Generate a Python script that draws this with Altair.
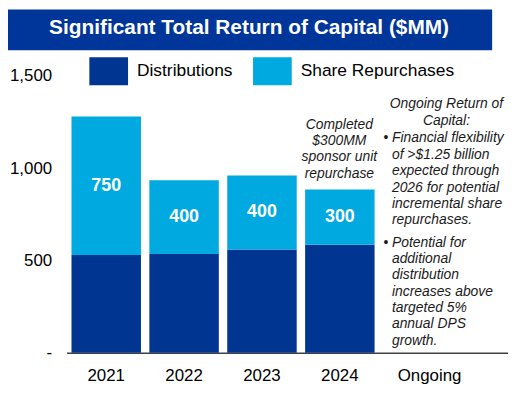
import altair as alt
import pandas as pd

# ---- data ----
years = ["2021", "2022", "2023", "2024"]
categories = ["2021", "2022", "2023", "2024", "Ongoing"]
distributions = [530, 535, 560, 585]
repurchases = [750, 400, 400, 300]
series = ["Distributions", "Share Repurchases"]
colors = ["#003591", "#00A9E0"]
y_ticks = [0, 500, 1000, 1500]

title_text = "Significant Total Return of Capital ($MM)"
note_2024 = ["Completed", "$300MM", "sponsor unit", "repurchase"]
ongoing_head = ["Ongoing Return of", "Capital:"]
bullet_1 = ["Financial flexibility", "of >$1.25 billion", "expected through",
            "2026 for potential", "incremental share", "repurchases."]
bullet_2 = ["Potential for", "additional", "distribution", "increases above",
            "targeted 5%", "annual DPS", "growth."]

BANNER = "#00359A"
TEXT = "#1a1a1a"

rows = []
for y, d, r in zip(years, distributions, repurchases):
    rows.append({"year": y, "series": series[0], "value": d, "ord": 0})
    rows.append({"year": y, "series": series[1], "value": r, "ord": 1})
df = pd.DataFrame(rows)

lab = pd.DataFrame({
    "year": years,
    "mid": [d + r / 2 for d, r in zip(distributions, repurchases)],
    "label": [str(r) for r in repurchases],
})

one = pd.DataFrame({"k": [0]})

xscale = alt.Scale(domain=categories, paddingInner=0.108, paddingOuter=0.3885, align=0.082)
yscale = alt.Scale(domain=[0, 1500], nice=False)

bars = alt.Chart(df).mark_bar().encode(
    x=alt.X("year:N", scale=xscale, sort=categories,
            axis=alt.Axis(title=None, labelAngle=0, labelFontSize=17, labelColor="#000",
                          ticks=False, domainColor="#404040", domainWidth=1.5,
                          labelPadding=15,
                          labelOffset={"condition": {"test": "datum.value === 'Ongoing'", "value": 12},
                                       "value": 0})),
    y=alt.Y("value:Q", stack="zero", scale=yscale,
            axis=alt.Axis(values=y_ticks, title=None, grid=False, domain=False, ticks=False,
                          labelFontSize=17, labelColor="#000", labelPadding=15,
                          labelExpr="datum.value == 0 ? '-' : format(datum.value, ',')")),
    color=alt.Color("series:N", scale=alt.Scale(domain=series, range=colors),
                    legend=alt.Legend(orient="none", legendX=23, legendY=-24.5,
                                      direction="horizontal", title=None,
                                      symbolType="M-1,-0.72H1V0.72H-1Z", symbolSize=1521,
                                      symbolStrokeWidth=0, symbolOpacity=1,
                                      labelFontSize=17.5, labelColor="#000",
                                      labelOffset=9, columnPadding=20, padding=0)),
    order=alt.Order("ord:Q"),
)

bar_labels = alt.Chart(lab).mark_text(color="white", fontSize=18, fontWeight="bold",
                                      baseline="middle").encode(
    x=alt.X("year:N", scale=xscale, sort=categories),
    y=alt.Y("mid:Q", scale=yscale),
    text="label:N",
)

banner = alt.Chart(one).mark_rect(color=BANNER).encode(
    x=alt.value(-59), x2=alt.value(429), y=alt.value(-67), y2=alt.value(-26))

banner_text = alt.Chart(one).mark_text(text=title_text, color="white", fontSize=21,
                                       fontWeight="bold", align="center",
                                       baseline="middle").encode(
    x=alt.value(184), y=alt.value(-48))

note = alt.Chart(one).mark_text(text=note_2024, color=TEXT, fontSize=14, fontStyle="italic",
                                align="center", baseline="middle", lineHeight=16.5).encode(
    x=alt.value(275), y=alt.value(49))

head = alt.Chart(one).mark_text(text=ongoing_head, color=TEXT, fontSize=14, fontStyle="italic",
                                align="center", baseline="middle", lineHeight=17).encode(
    x=alt.value(383), y=alt.value(28))

b1 = alt.Chart(one).mark_text(text=bullet_1, color=TEXT, fontSize=14, fontStyle="italic",
                              align="left", baseline="middle", lineHeight=16.5).encode(
    x=alt.value(328), y=alt.value(63))

b2 = alt.Chart(one).mark_text(text=bullet_2, color=TEXT, fontSize=14, fontStyle="italic",
                              align="left", baseline="middle", lineHeight=16.5).encode(
    x=alt.value(328), y=alt.value(168))

dot1 = alt.Chart(one).mark_text(text="•", color=TEXT, fontSize=14, align="center",
                                baseline="middle").encode(x=alt.value(322), y=alt.value(63))
dot2 = alt.Chart(one).mark_text(text="•", color=TEXT, fontSize=14, align="center",
                                baseline="middle").encode(x=alt.value(322), y=alt.value(168))

chart = alt.layer(banner, banner_text, bars, bar_labels, note, head, b1, b2, dot1, dot2).properties(
    width=445, height=279,
    autosize=alt.AutoSizeParams(type="none"),
    padding={"left": 59, "top": 67, "right": 0, "bottom": 30},
).configure(font="Liberation Sans").configure_view(stroke=None)

chart.save("out.html", embed_options={"renderer": "svg", "actions": False})
